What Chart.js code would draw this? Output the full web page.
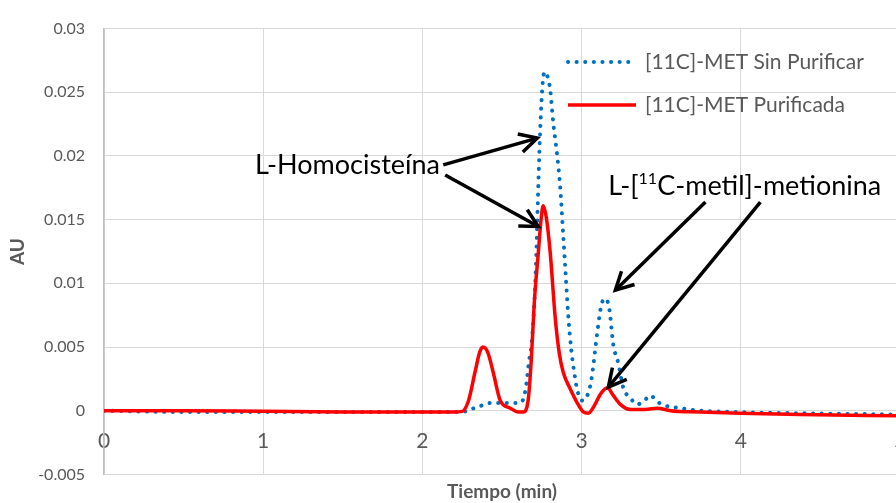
<!DOCTYPE html>
<html>
<head>
<meta charset="utf-8">
<script src="https://cdn.jsdelivr.net/npm/chart.js@4.4.1/dist/chart.umd.min.js"></script>
<style>
  html, body { margin: 0; padding: 0; background: #fff; overflow: hidden; }
  canvas { display: block; }
</style>
</head>
<body>
<canvas id="grafico" width="906" height="503"></canvas>
<script>
const tiempoSinPurificar = [0, 0.5, 1.0, 1.5, 2.0, 2.25, 2.30, 2.35, 2.426, 2.489, 2.552, 2.602, 2.634, 2.652, 2.671, 2.684, 2.709, 2.734, 2.747, 2.759, 2.772, 2.791, 2.803, 2.822, 2.847, 2.866, 2.885, 2.898, 2.916, 2.935, 2.954, 2.973, 3.004, 3.036, 3.061, 3.099, 3.124, 3.149, 3.174, 3.199, 3.231, 3.262, 3.306, 3.350, 3.394, 3.432, 3.476, 3.526, 3.620, 3.746, 3.953, 4.375, 5.0];
const auSinPurificar = [0, -0.0001, -0.0001, -0.0001, -0.0001, -0.0001, 0.0001, 0.0003, 0.0006, 0.0006, 0.0006, 0.0006, 0.0009, 0.0020, 0.0040, 0.0050, 0.0100, 0.0200, 0.0240, 0.0262, 0.0266, 0.0260, 0.0252, 0.0226, 0.0200, 0.0175, 0.0137, 0.0111, 0.0075, 0.0048, 0.0030, 0.0016, 0.0008, 0.0012, 0.0024, 0.0062, 0.0083, 0.0088, 0.0080, 0.0052, 0.0037, 0.0018, 0.0010, 0.0005, 0.0008, 0.0012, 0.0007, 0.0004, 0.0002, 0.0000, -0.0001, -0.0002, -0.0003];

const tiempoPurificada = [0, 0.5, 1.0, 1.5, 2.0, 2.2, 2.25, 2.29, 2.33, 2.36, 2.38, 2.41, 2.445, 2.489, 2.552, 2.602, 2.634, 2.665, 2.684, 2.703, 2.728, 2.747, 2.759, 2.778, 2.803, 2.835, 2.860, 2.885, 2.929, 2.973, 3.011, 3.042, 3.080, 3.118, 3.162, 3.199, 3.243, 3.306, 3.400, 3.476, 3.558, 3.746, 3.997, 4.375, 5.0];
const auPurificada = [0, 0, -0.00005, -0.0001, -0.0001, -0.0001, -0.00005, 0.0008, 0.0030, 0.0046, 0.0050, 0.0046, 0.0030, 0.0008, 0.0002, -0.0001, -0.0001, 0.0009, 0.0040, 0.0085, 0.0124, 0.0152, 0.0161, 0.0152, 0.0124, 0.0072, 0.0045, 0.0030, 0.0017, 0.0006, -0.0001, -0.0002, 0.0004, 0.0013, 0.0018, 0.0012, 0.0005, 0.0001, 0.0001, 0.0002, 0.0000, -0.0001, -0.0002, -0.0003, -0.0004];

const ticksX = [0, 1, 2, 3, 4, 5];
const ticksY = [-0.005, 0, 0.005, 0.01, 0.015, 0.02, 0.025, 0.03];
const etiquetasY = ['-0.005', '0', '0.005', '0.01', '0.015', '0.02', '0.025', '0.03'];

const nombres = ['[11C]-MET Sin Purificar', '[11C]-MET Purificada'];

// flechas de anotacion en unidades de datos (tiempo, AU)
const flechas = [
  [2.131, 0.0193, 2.722, 0.0214],
  [2.143, 0.0185, 2.728, 0.01446],
  [3.778, 0.01638, 3.212, 0.00946],
  [4.123, 0.01638, 3.168, 0.00185]
];

const AZUL = '#0070C0';
const ROJO = '#FF0000';
const GRIS = '#595959';
const FUENTE = 'Lato, "Open Sans", sans-serif';

function puntos(xs, ys) {
  return xs.map((x, i) => ({ x: x, y: ys[i] }));
}

function flecha(ctx, x1, y1, x2, y2) {
  ctx.beginPath();
  ctx.moveTo(x1, y1);
  ctx.lineTo(x2, y2);
  ctx.stroke();
  const ang = Math.atan2(y2 - y1, x2 - x1);
  const L = 20, a = Math.PI / 6.5;
  ctx.beginPath();
  ctx.moveTo(x2 - L * Math.cos(ang - a), y2 - L * Math.sin(ang - a));
  ctx.lineTo(x2, y2);
  ctx.lineTo(x2 - L * Math.cos(ang + a), y2 - L * Math.sin(ang + a));
  ctx.stroke();
}

const anotaciones = {
  id: 'anotaciones',
  afterDatasetsDraw(chart) {
    const ctx = chart.ctx;
    const sx = chart.scales.x, sy = chart.scales.y;
    ctx.save();

    // leyenda
    const ds = chart.data.datasets;
    const filas = [62, 105];
    ds.forEach((d, i) => {
      ctx.beginPath();
      ctx.lineWidth = d.borderWidth;
      ctx.strokeStyle = d.borderColor;
      ctx.setLineDash(d.borderDash || []);
      ctx.lineCap = d.borderCapStyle || 'butt';
      ctx.moveTo(568, filas[i]);
      ctx.lineTo(636, filas[i]);
      ctx.stroke();
      ctx.setLineDash([]);
      ctx.fillStyle = GRIS;
      ctx.font = '21px ' + FUENTE;
      ctx.textBaseline = 'middle';
      ctx.textAlign = 'left';
      ctx.fillText(d.label, 645, filas[i]);
    });

    // flechas
    ctx.strokeStyle = '#000';
    ctx.lineWidth = 3.5;
    ctx.lineCap = 'butt';
    ctx.lineJoin = 'miter';
    flechas.forEach(f => {
      flecha(ctx, sx.getPixelForValue(f[0]), sy.getPixelForValue(f[1]),
                  sx.getPixelForValue(f[2]), sy.getPixelForValue(f[3]));
    });

    // textos
    ctx.fillStyle = '#000';
    ctx.textBaseline = 'alphabetic';
    ctx.textAlign = 'left';
    ctx.font = '27px ' + FUENTE;
    ctx.fillText('L-Homocisteína', sx.getPixelForValue(0.949), sy.getPixelForValue(0.0186));

    let x = sx.getPixelForValue(3.168);
    const yb = sy.getPixelForValue(0.01695);
    ctx.font = '27px ' + FUENTE;
    ctx.fillText('L-[', x, yb);
    x += ctx.measureText('L-[').width;
    ctx.font = '16px ' + FUENTE;
    ctx.fillText('11', x, yb - 11);
    x += ctx.measureText('11').width;
    ctx.font = '27px ' + FUENTE;
    ctx.fillText('C-metil]-metionina', x, yb);

    ctx.restore();
  }
};

new Chart(document.getElementById('grafico'), {
  type: 'line',
  data: {
    datasets: [
      {
        label: nombres[0],
        data: puntos(tiempoSinPurificar, auSinPurificar),
        borderColor: AZUL,
        borderWidth: 4,
        borderDash: [0.1, 8.5],
        borderCapStyle: 'round',
        pointRadius: 0,
        cubicInterpolationMode: 'monotone',
        fill: false,
        order: 1
      },
      {
        label: nombres[1],
        data: puntos(tiempoPurificada, auPurificada),
        borderColor: ROJO,
        borderWidth: 3.5,
        pointRadius: 0,
        cubicInterpolationMode: 'monotone',
        fill: false,
        order: 0
      }
    ]
  },
  options: {
    responsive: false,
    animation: false,
    layout: { padding: { left: 0, right: 6, top: 20, bottom: 0 } },
    plugins: { legend: { display: false }, tooltip: { enabled: false } },
    scales: {
      x: {
        type: 'linear',
        min: 0, max: 5,
        afterBuildTicks: s => { s.ticks = ticksX.map(v => ({ value: v })); },
        afterFit: s => { s.height = 27; s.paddingLeft = 0; s.paddingRight = 0; },
        grid: { color: '#d9d9d9', lineWidth: 1, drawTicks: false },
        border: { color: '#d9d9d9' },
        // etiquetas dentro del area, a la altura del eje y = 0 como en Excel
        ticks: { color: GRIS, font: { family: FUENTE, size: 21 }, padding: 21, mirror: true, maxRotation: 0, autoSkip: false },
        title: { display: true, text: 'Tiempo (min)', color: GRIS, font: { family: FUENTE, size: 19, weight: 'bold', lineHeight: 1.05 }, padding: { top: 0, bottom: 0 } }
      },
      y: {
        min: -0.005, max: 0.03,
        afterBuildTicks: s => { s.ticks = ticksY.map(v => ({ value: v })); },
        afterFit: s => { s.width = 104; },
        grid: { color: '#d9d9d9', lineWidth: 1, drawTicks: false },
        border: { color: '#bfbfbf', width: 1.5 },
        ticks: { color: GRIS, font: { family: FUENTE, size: 16 }, padding: 19,
                 callback: (v, i) => etiquetasY[i] },
        title: { display: true, text: 'AU', color: GRIS, font: { family: FUENTE, size: 19, weight: 'bold' }, padding: { top: 6, bottom: 0 } }
      }
    }
  },
  plugins: [anotaciones]
});
</script>
</body>
</html>
